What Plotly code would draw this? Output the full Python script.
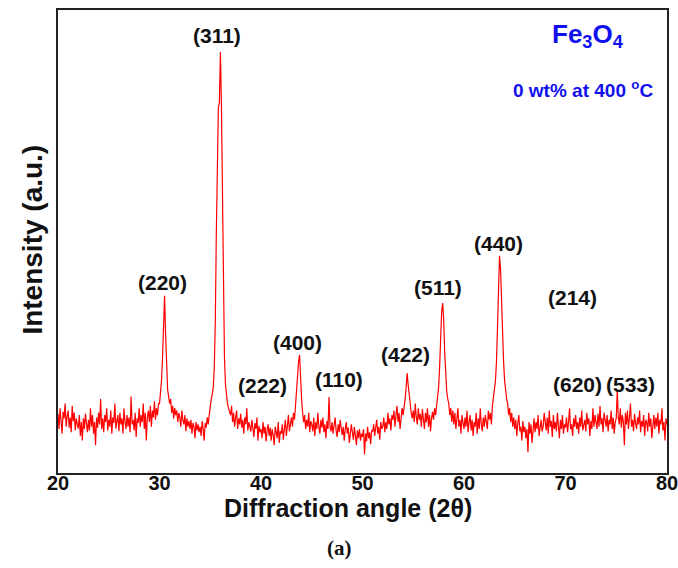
import plotly.graph_objects as go

# 2-theta grid: 20.0 .. 80.0 step 0.1
two_theta = [round(20 + i * 0.1, 1) for i in range(601)]

intensity_rows = [
    [128, 95, 140, 110, 85, 132, 118, 150, 100, 122],   # 20
    [135, 98, 120, 88, 145, 112, 130, 92, 118, 105],    # 21
    [96, 125, 80, 110, 70, 118, 95, 128, 102, 88],      # 22
    [115, 92, 140, 100, 125, 85, 110, 60, 120, 98],     # 23
    [130, 105, 160, 95, 118, 88, 125, 110, 140, 92],    # 24
    [115, 100, 135, 85, 120, 108, 150, 96, 112, 125],   # 25
    [90, 130, 105, 118, 85, 140, 110, 95, 125, 100],    # 26
    [120, 88, 165, 105, 115, 92, 130, 78, 118, 108],    # 27
    [140, 100, 125, 110, 150, 95, 130, 70, 120, 135],   # 28
    [110, 145, 100, 135, 120, 155, 115, 140, 125, 150], # 29
    [150, 170, 200, 250, 330, 383, 300, 220, 180, 165], # 30
    [150, 160, 130, 145, 118, 140, 125, 135, 110, 130], # 31
    [120, 100, 135, 115, 105, 125, 90, 118, 100, 112],  # 32
    [95, 115, 85, 108, 100, 75, 110, 92, 105, 88],      # 33
    [100, 80, 112, 95, 70, 108, 98, 120, 105, 125],     # 34
    [150, 160, 170, 185, 230, 330, 520, 690, 790, 800], # 35
    [909, 795, 560, 360, 250, 190, 165, 150, 140, 130], # 36
    [125, 145, 110, 130, 100, 120, 135, 95, 118, 105],  # 37
    [128, 98, 115, 85, 120, 105, 140, 92, 110, 100],    # 38
    [90, 115, 100, 78, 108, 95, 120, 70, 102, 88],      # 39
    [95, 75, 110, 85, 100, 68, 92, 105, 80, 98],        # 40
    [70, 95, 82, 60, 100, 88, 75, 110, 65, 90],         # 41
    [85, 105, 72, 95, 115, 80, 100, 125, 90, 110],      # 42
    [120, 100, 130, 115, 150, 180, 210, 240, 255, 200], # 43
    [160, 130, 110, 125, 95, 115, 100, 130, 88, 112],   # 44
    [105, 90, 120, 80, 110, 95, 130, 100, 85, 115],     # 45
    [98, 120, 88, 105, 75, 112, 95, 164, 100, 90],      # 46
    [110, 85, 100, 120, 92, 78, 105, 88, 115, 95],      # 47
    [82, 100, 70, 95, 110, 85, 98, 65, 90, 105],        # 48
    [88, 72, 100, 80, 60, 92, 75, 95, 70, 85],          # 49
    [78, 95, 40, 85, 68, 100, 75, 88, 62, 92],          # 50
    [90, 105, 80, 98, 115, 85, 100, 72, 110, 95],       # 51
    [100, 120, 88, 110, 95, 130, 105, 118, 92, 125],    # 52
    [115, 135, 100, 125, 145, 110, 130, 95, 120, 140],  # 53
    [125, 140, 160, 185, 216, 190, 165, 150, 130, 118], # 54
    [135, 110, 150, 120, 105, 140, 115, 128, 100, 138], # 55
    [120, 95, 130, 110, 140, 100, 125, 90, 118, 132],   # 56
    [115, 140, 125, 150, 165, 185, 230, 300, 350, 367], # 57
    [330, 260, 200, 175, 160, 150, 125, 140, 110, 135], # 58
    [105, 130, 95, 120, 140, 100, 115, 85, 125, 108],   # 59
    [95, 120, 100, 135, 88, 110, 125, 92, 115, 80],     # 60
    [110, 100, 130, 85, 118, 95, 140, 105, 90, 120],    # 61
    [100, 125, 110, 95, 135, 115, 130, 105, 145, 160],  # 62
    [175, 200, 240, 330, 420, 469, 440, 360, 290, 240], # 63
    [200, 175, 160, 150, 125, 140, 110, 130, 100, 120], # 64
    [95, 115, 80, 108, 125, 90, 100, 70, 112, 88],      # 65
    [100, 75, 95, 45, 110, 85, 105, 65, 92, 118],       # 66
    [88, 110, 95, 125, 80, 105, 115, 90, 100, 130],     # 67
    [105, 92, 120, 85, 135, 100, 112, 78, 125, 95],     # 68
    [110, 90, 130, 100, 75, 115, 95, 125, 85, 105],     # 69
    [98, 120, 88, 110, 140, 95, 105, 80, 118, 100],     # 70
    [125, 95, 110, 85, 120, 100, 135, 92, 108, 115],    # 71
    [90, 130, 105, 118, 80, 112, 95, 140, 100, 125],    # 72
    [110, 95, 128, 100, 145, 105, 118, 88, 130, 112],   # 73
    [100, 125, 90, 115, 105, 135, 95, 120, 85, 110],    # 74
    [118, 179, 120, 105, 140, 98, 125, 110, 60, 130],   # 75
    [105, 135, 95, 120, 150, 100, 115, 90, 128, 108],   # 76
    [95, 120, 105, 135, 88, 112, 100, 125, 80, 115],    # 77
    [110, 90, 130, 100, 118, 75, 108, 125, 95, 120],    # 78
    [100, 130, 85, 115, 105, 140, 92, 110, 70, 118],    # 79
    [105],                                              # 80
]
intensity = [v for row in intensity_rows for v in row]

peak_labels = ["(311)", "(220)", "(222)", "(400)", "(110)", "(422)",
               "(511)", "(440)", "(214)", "(620)", "(533)"]
label_x = [35.67, 30.34, 40.1, 43.55, 47.7, 54.2, 57.44, 63.35, 70.64, 71.23, 76.45]
label_y = [945, 412, 190, 281, 201, 257, 400, 495, 378, 192, 192]

x_ticks = [20, 30, 40, 50, 60, 70, 80]

SANS = "Liberation Sans, Arial"
fig = go.Figure()
fig.add_trace(go.Scatter(
    x=two_theta, y=intensity, mode="lines",
    line=dict(color="#ff0000", width=1.2), showlegend=False, hoverinfo="skip"))

annotations = []
for t, lx, ly in zip(peak_labels, label_x, label_y):
    annotations.append(dict(x=lx, y=ly, xref="x", yref="y", text="<b>%s</b>" % t,
                            showarrow=False, xanchor="center", yanchor="middle",
                            font=dict(size=21, color="#111111", family=SANS)))

def paper_note(x, y, text, size, color="#111111", family=SANS, angle=0):
    return dict(x=x, y=y, xref="paper", yref="paper", showarrow=False,
                xanchor="center", yanchor="middle", text=text, textangle=angle,
                font=dict(size=size, color=color, family=family))

annotations += [
    paper_note(0.870, 0.944, "<b>Fe<sub>3</sub>O<sub>4</sub></b>", 26, "#1010ee"),
    paper_note(0.862, 0.829, "<b>0 wt% at 400 <sup>o</sup>C</b>", 19, "#1010ee"),
    paper_note(-0.042, 0.505, "<b>Intensity (a.u.)</b>", 28, angle=-90),
    paper_note(0.476, -0.075, "<b>Diffraction angle (2θ)</b>", 25),
    paper_note(0.463, -0.162, "<b>(a)</b>", 21, family="Liberation Serif, Times New Roman"),
]

fig.update_layout(
    width=678, height=568,
    margin=dict(l=58, r=11, t=10, b=95, autoexpand=False),
    paper_bgcolor="white", plot_bgcolor="white",
    annotations=annotations,
    xaxis=dict(range=[20, 80], tickvals=x_ticks, ticktext=[str(v) for v in x_ticks],
               showgrid=False, zeroline=False, showline=True, linecolor="#222222",
               linewidth=2, mirror=True, ticks="", automargin=False,
               ticklabeloverflow="allow",
               tickfont=dict(size=20, color="#111111", family=SANS, weight="bold"),
               ticklabelstandoff=-9),
    yaxis=dict(range=[0, 1000], showticklabels=False, showgrid=False, zeroline=False,
               showline=True, linecolor="#222222", linewidth=2, mirror=True, ticks="",
               automargin=False),
)

# remove the page's default 8px body margin so the figure fills the window exactly
fig.write_html("out.html",
               config={"displayModeBar": False, "staticPlot": True},
               post_script="document.body.style.margin='0';document.body.style.overflow='hidden';")
